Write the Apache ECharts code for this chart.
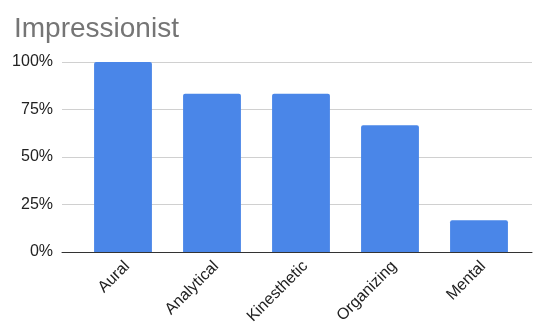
<!DOCTYPE html>
<html>
<head>
<meta charset="utf-8">
<script src="https://cdn.jsdelivr.net/npm/echarts@6/dist/echarts.min.js"></script>
<style>
html,body{margin:0;padding:0;background:#fff;}
#chart{width:535px;height:331px;}
</style>
</head>
<body>
<div id="chart"></div>
<script>
const categories = ["Aural", "Analytical", "Kinesthetic", "Organizing", "Mental"];
const values = [1.0, 0.8333, 0.8333, 0.6667, 0.1667];
const yTicks = [0, 0.25, 0.5, 0.75, 1.0];

const chart = echarts.init(document.getElementById('chart'), null, {renderer: 'canvas'});
const font = 'Liberation Sans, Arial, sans-serif';
chart.setOption({
  animation: false,
  title: {
    text: 'Impressionist',
    left: 9, top: 10,
    textStyle: {fontFamily: font, fontSize: 28, fontWeight: 'normal', color: '#757575'}
  },
  grid: [
    {left: 62, right: 3, top: 62, bottom: 79},
    {left: 78.5, right: 11.5, top: 62, bottom: 79}
  ],
  xAxis: [
    {gridIndex: 0, type: 'value', min: 0, max: 1,
     axisLine: {show: true, onZero: false, lineStyle: {color: '#333', width: 1}},
     axisTick: {show: false}, axisLabel: {show: false}, splitLine: {show: false}},
    {gridIndex: 1, type: 'category', data: categories,
     axisLine: {show: false}, axisTick: {show: false},
     axisLabel: {rotate: 45, margin: 16, interval: 0, fontFamily: font, fontSize: 16, color: '#222',
       padding: [0, -6, 0, 0]}}
  ],
  yAxis: [
    {gridIndex: 0, type: 'value', min: yTicks[0], max: yTicks[yTicks.length-1], interval: 0.25,
     axisLine: {show: false}, axisTick: {show: false},
     axisLabel: {margin: 9, fontFamily: font, fontSize: 16, color: '#222',
       formatter: v => Math.round(v * 100) + '%'},
     splitLine: {lineStyle: {color: '#d0d0d0', width: 1}}},
    {gridIndex: 1, type: 'value', min: yTicks[0], max: yTicks[yTicks.length-1], interval: 0.25,
     show: false, splitLine: {show: false}}
  ],
  series: [{
    type: 'bar', xAxisIndex: 1, yAxisIndex: 1,
    data: values, barWidth: '65%',
    itemStyle: {color: '#4a86e8', borderRadius: [2, 2, 0, 0]}
  }]
});
</script>
</body>
</html>
